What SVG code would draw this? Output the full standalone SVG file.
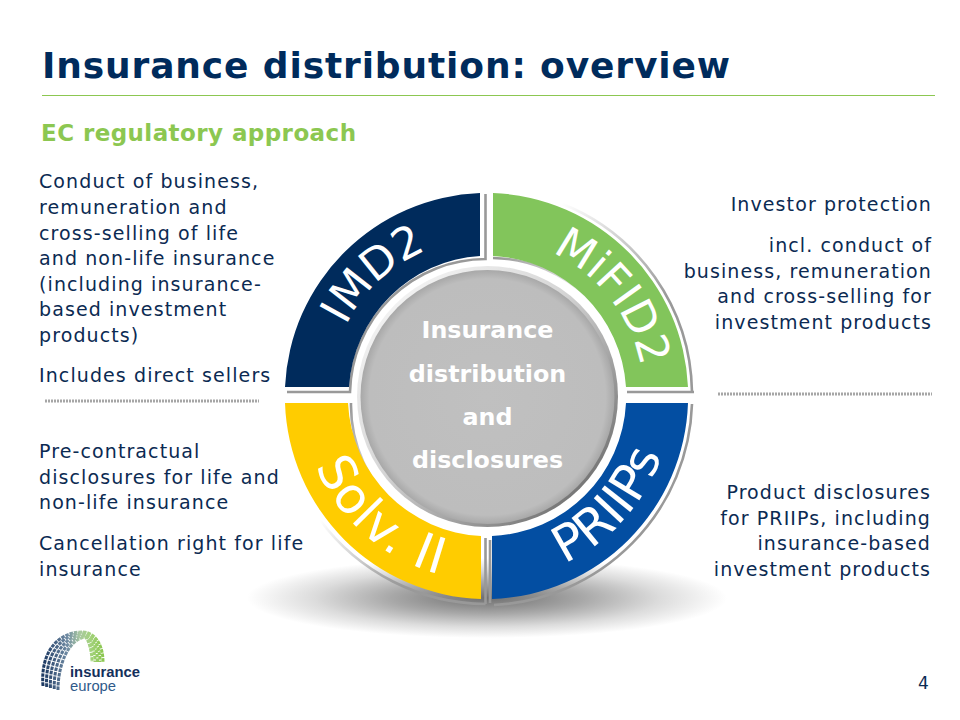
<svg xmlns="http://www.w3.org/2000/svg" width="960" height="720" viewBox="0 0 960 720">
<style>
text{font-family:"DejaVu Sans",Verdana,sans-serif}
.t{font-size:19px;letter-spacing:1.1px;fill:#0b2a52}
.r{text-anchor:end}
.c{font-size:23.8px;font-weight:bold;fill:#fff;text-anchor:middle}
.w{font-size:44px;fill:#fff;text-anchor:middle}
.rim{fill:none;stroke-width:2.600}
.dot{stroke:#a6a6a6;stroke-width:3;stroke-dasharray:2 1;fill:none}
.g{fill:none;stroke-width:3;stroke-dasharray:3.6 .9;stroke:url(#logoG)}
.lg{font-family:"Liberation Sans",Arial,sans-serif;font-size:14.800px}
</style>
<defs>
<radialGradient id="ground" cx="50%" cy="50%" r="50%"><stop offset="0" stop-color="#707070"/><stop offset=".4" stop-color="#a8a8a8"/><stop offset=".72" stop-color="#dcdcdc"/><stop offset="1" stop-color="#fff"/></radialGradient>
<radialGradient id="disc" cx="50%" cy="50%" r="50%"><stop offset="0" stop-color="#c0c0c0"/><stop offset=".93" stop-color="#bdbdbd"/><stop offset="1" stop-color="#a8a8a8"/></radialGradient>
<linearGradient id="edge" x1="0" y1="0" x2="1" y2="1"><stop offset="0" stop-color="#fff"/><stop offset=".45" stop-color="#d5d5d5"/><stop offset="1" stop-color="#555"/></linearGradient>
<linearGradient id="fadeTR" gradientUnits="userSpaceOnUse" x1="560" y1="205" x2="690" y2="390"><stop offset="0" stop-color="#999" stop-opacity="0"/><stop offset=".6" stop-color="#999"/></linearGradient>
<linearGradient id="fadeBL" gradientUnits="userSpaceOnUse" x1="320" y1="520" x2="480" y2="600"><stop offset="0" stop-color="#999" stop-opacity="0"/><stop offset=".6" stop-color="#999"/></linearGradient>
<linearGradient id="fadeIn1" gradientUnits="userSpaceOnUse" x1="590" y1="300" x2="500" y2="258"><stop offset="0" stop-color="#999" stop-opacity="0"/><stop offset="1" stop-color="#999"/></linearGradient>
<linearGradient id="fadeIn2" gradientUnits="userSpaceOnUse" x1="400" y1="510" x2="350" y2="405"><stop offset="0" stop-color="#999" stop-opacity="0"/><stop offset="1" stop-color="#999"/></linearGradient>
<linearGradient id="logoG" gradientUnits="userSpaceOnUse" x1="44" y1="0" x2="102" y2="0"><stop offset="0" stop-color="#1d3a63"/><stop offset=".4" stop-color="#6f8aa3"/><stop offset=".62" stop-color="#a9c9a0"/><stop offset=".8" stop-color="#a3d27c"/><stop offset="1" stop-color="#8cc751"/></linearGradient>
<path id="a1" d="M371.700 502.600A157 157 0 0 1 601.300 288.400"/>
<path id="a2" d="M389.800 271.800A157 157 0 0 1 583.200 519.200"/>
<path id="a3" d="M346.900 274.100A185 185 0 0 0 626.100 516.900"/>
<path id="a4" d="M362.700 533A185 185 0 0 0 610.300 258"/>
</defs>

<rect width="960" height="720" fill="#fff"/>

<g id="header">
<text x="42" y="78" font-size="36" font-weight="bold" fill="#002b5c" textLength="688" lengthAdjust="spacing">Insurance distribution: overview</text>
<rect x="42" y="95" width="893" height="1" fill="#8cc751"/>
<text x="41" y="141" font-size="23" font-weight="bold" fill="#8cc751" textLength="315" lengthAdjust="spacing">EC regulatory approach</text>
</g>

<ellipse id="ground-shadow" cx="487" cy="598" rx="240" ry="40" fill="url(#ground)"/>

<g id="rims">
<path class="rim" stroke="#999" d="M485.500 194V259A136 136 0 0 0 350 392H287"/>
<path class="rim" stroke="#999" d="M627 392H694"/>
<path class="rim" stroke="url(#fadeTR)" d="M692 392A206 206 0 0 0 560 203"/>
<path class="rim" stroke="url(#fadeIn1)" d="M493 258A138 138 0 0 1 590 300"/>
<path class="rim" stroke="#999" d="M485.500 538V604"/>
<path class="rim" stroke="url(#fadeBL)" d="M485.500 604A208 208 0 0 1 320 520"/>
<path class="rim" stroke="url(#fadeIn2)" d="M351 403A136 136 0 0 0 400 510"/>
<path class="rim" stroke="#999" d="M692 404A208 208 0 0 1 494 605"/>
<path class="rim" stroke="#999" stroke-width="2" d="M490 540V603"/>
</g>

<g id="imd2">
<path fill="#002b5c" d="M480 193V256A140 140 0 0 0 349 387H285A203 203 0 0 1 480 193Z"/>
<text class="w"><textPath href="#a1" startOffset="50%">IMD2</textPath></text>
</g>
<g id="mifid2">
<path fill="#82c55b" d="M493 193A203 203 0 0 1 688 387H626A140 140 0 0 0 493 256Z"/>
<text class="w"><textPath href="#a2" startOffset="50%">MiFID2</textPath></text>
</g>
<g id="priips">
<path fill="#034ea2" d="M688 403A203 203 0 0 1 492 599V536A140 140 0 0 0 626 403Z"/>
<text class="w" style="font-size:50px"><textPath href="#a4" startOffset="50%">PRIIPs</textPath></text>
</g>
<g id="solv2">
<path fill="#ffcc00" d="M285 403H348A140 140 0 0 0 481 536V599A203 203 0 0 1 285 403Z"/>
<text class="w" style="font-size:50px;letter-spacing:1px"><textPath href="#a3" startOffset="50%">Solv. II</textPath></text>
</g>

<g id="centre">
<circle cx="487.500" cy="396.500" r="130.500" fill="url(#edge)"/>
<circle cx="487.500" cy="397" r="127" fill="url(#disc)"/>
<text class="c" x="487.500" y="338">Insurance</text>
<text class="c" x="487.500" y="382">distribution</text>
<text class="c" x="487.500" y="425">and</text>
<text class="c" x="487.500" y="468">disclosures</text>
</g>

<g id="left-text">
<text class="t" x="39" y="188">Conduct of business,</text>
<text class="t" x="39" y="214">remuneration and</text>
<text class="t" x="39" y="240">cross-selling of life</text>
<text class="t" x="39" y="265">and non-life insurance</text>
<text class="t" x="39" y="291">(including insurance-</text>
<text class="t" x="39" y="316">based investment</text>
<text class="t" x="39" y="342">products)</text>
<text class="t" x="39" y="382">Includes direct sellers</text>
<line class="dot" x1="45" y1="401" x2="259" y2="401"/>
<text class="t" x="39" y="458">Pre-contractual</text>
<text class="t" x="39" y="484">disclosures for life and</text>
<text class="t" x="39" y="509">non-life insurance</text>
<text class="t" x="39" y="550">Cancellation right for life</text>
<text class="t" x="39" y="576">insurance</text>
</g>

<g id="right-text">
<text class="t r" x="932" y="211">Investor protection</text>
<text class="t r" x="932" y="252">incl. conduct of</text>
<text class="t r" x="932" y="278">business, remuneration</text>
<text class="t r" x="932" y="303">and cross-selling for</text>
<text class="t r" x="932" y="329">investment products</text>
<line class="dot" x1="718" y1="394" x2="932" y2="394"/>
<text class="t r" x="931" y="499">Product disclosures</text>
<text class="t r" x="931" y="525">for PRIIPs, including</text>
<text class="t r" x="931" y="550">insurance-based</text>
<text class="t r" x="931" y="576">investment products</text>
</g>

<g id="logo">
<path class="g" d="M43 686C40 650 60 632 82 632C95 632 103 645 103 662"/>
<path class="g" d="M46.750 687C44.500 654 62 634 82.750 633C93 633.500 100 646 100 662"/>
<path class="g" d="M50.500 688C49 657.500 64 636 83.500 634.500C91.500 635 97.500 647.500 97.500 662"/>
<path class="g" d="M54.250 689C53.500 661 66 638 84.250 636C90 636.500 95 649 95 662"/>
<path class="g" d="M58 690C58 665 68 640 85 637C88 638 92 650 92 662"/>
<text class="lg" x="70" y="677" font-weight="bold" fill="#14305c">insurance</text>
<text class="lg" x="70" y="691" fill="#2f5a8a">europe</text>
</g>

<text id="page-number" x="918" y="689" font-size="17" fill="#0b2a52">4</text>
</svg>
